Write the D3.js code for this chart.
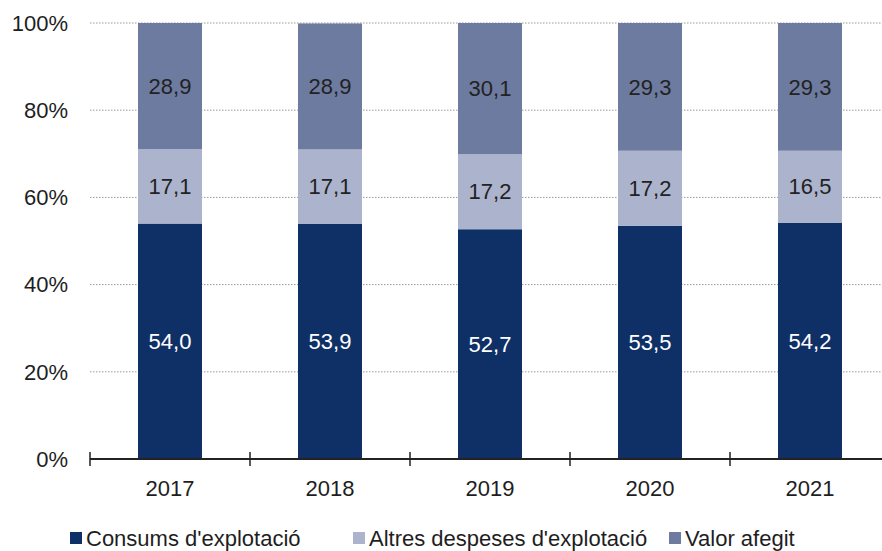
<!DOCTYPE html>
<html>
<head>
<meta charset="utf-8">
<script src="https://cdn.jsdelivr.net/npm/d3@7"></script>
<style>
  body { margin: 0; background: #fff; }
  svg { font-family: "Liberation Sans", Arial, sans-serif; }
  .grid line { stroke: #9a9a9a; stroke-dasharray: 1.5 1.5; }
</style>
</head>
<body>
<div id="chart"></div>
<script>
// data
var years = ["2017", "2018", "2019", "2020", "2021"];
var consums = [54.0, 53.9, 52.7, 53.5, 54.2];
var altres = [17.1, 17.1, 17.2, 17.2, 16.5];
var valor = [28.9, 28.9, 30.1, 29.3, 29.3];
var seriesNames = ["Consums d'explotació", "Altres despeses d'explotació", "Valor afegit"];
var yTicks = [0, 20, 40, 60, 80, 100];

var colors = ["#0e3066", "#abb3cd", "#6e7ba0"];
var labelColors = ["#ffffff", "#222222", "#222222"];

var width = 882, height = 551;
var margin = {top: 23, right: -8, bottom: 92, left: 90};
var innerW = width - margin.left - margin.right,
    innerH = height - margin.top - margin.bottom;

var rows = years.map(function(y, i) {
  return {year: y, s0: consums[i], s1: altres[i], s2: valor[i]};
});
var stack = d3.stack().keys(["s0", "s1", "s2"]);
var layers = stack(rows);

var x = d3.scaleBand().domain(years).range([0, innerW]).paddingInner(0.6).paddingOuter(0.3);
var y = d3.scaleLinear().domain([0, 100]).range([innerH, 0]);

var svg = d3.select("#chart").append("svg")
  .attr("width", width)
  .attr("height", height);

var g = svg.append("g")
  .attr("transform", "translate(" + margin.left + "," + margin.top + ")");

// gridlines
g.append("g").attr("class", "grid")
  .selectAll("line")
  .data(yTicks.filter(function(d) { return d > 0; }))
  .enter().append("line")
  .attr("x1", 0).attr("x2", innerW)
  .attr("y1", function(d) { return y(d); })
  .attr("y2", function(d) { return y(d); });

// y labels
g.append("g")
  .selectAll("text")
  .data(yTicks)
  .enter().append("text")
  .attr("x", -22)
  .attr("y", function(d) { return y(d); })
  .attr("dy", "0.35em")
  .attr("text-anchor", "end")
  .style("font-size", "22px")
  .style("fill", "#1e1e1e")
  .text(function(d) { return d + "%"; });

// bars
var layer = g.selectAll(".layer")
  .data(layers)
  .enter().append("g")
  .attr("class", "layer")
  .style("fill", function(d, i) { return colors[i]; });

layer.selectAll("rect")
  .data(function(d) { return d; })
  .enter().append("rect")
  .attr("x", function(d) { return x(d.data.year); })
  .attr("width", x.bandwidth())
  .attr("y", function(d) { return y(d[1]); })
  .attr("height", function(d) { return y(d[0]) - y(d[1]); });

// value labels
layers.forEach(function(l, li) {
  g.append("g").selectAll("text")
    .data(l)
    .enter().append("text")
    .attr("x", function(d) { return x(d.data.year) + x.bandwidth() / 2; })
    .attr("y", function(d) { return (y(d[0]) + y(d[1])) / 2; })
    .attr("dy", "0.35em")
    .attr("text-anchor", "middle")
    .style("font-size", "22px")
    .style("fill", labelColors[li])
    .text(function(d) { return d3.format(".1f")(d[1] - d[0]).replace(".", ","); });
});

// x axis
var step = x.step();
var ax = g.append("g").attr("transform", "translate(0," + innerH + ")");
ax.append("line")
  .attr("x1", 0).attr("x2", innerW)
  .attr("stroke", "#222").attr("stroke-width", 2);
ax.selectAll(".tick")
  .data(d3.range(years.length + 1))
  .enter().append("line")
  .attr("x1", function(d) { return d * step; })
  .attr("x2", function(d) { return d * step; })
  .attr("y1", -7).attr("y2", 7)
  .attr("stroke", "#222").attr("stroke-width", 1.5);
ax.selectAll("text")
  .data(years)
  .enter().append("text")
  .attr("x", function(d) { return x(d) + x.bandwidth() / 2; })
  .attr("y", 29)
  .attr("dy", "0.35em")
  .attr("text-anchor", "middle")
  .style("font-size", "22px")
  .style("fill", "#1e1e1e")
  .text(function(d) { return d; });

// legend
var legendX = [70, 353, 669];
var leg = svg.append("g").attr("transform", "translate(0,538)");
seriesNames.forEach(function(name, i) {
  leg.append("rect")
    .attr("x", legendX[i]).attr("y", -6)
    .attr("width", 12).attr("height", 12)
    .attr("fill", colors[i]);
  leg.append("text")
    .attr("x", legendX[i] + 16)
    .attr("y", 0)
    .attr("dy", "0.35em")
    .style("font-size", "22px")
    .style("fill", "#1e1e1e")
    .text(name);
});
</script>
</body>
</html>
